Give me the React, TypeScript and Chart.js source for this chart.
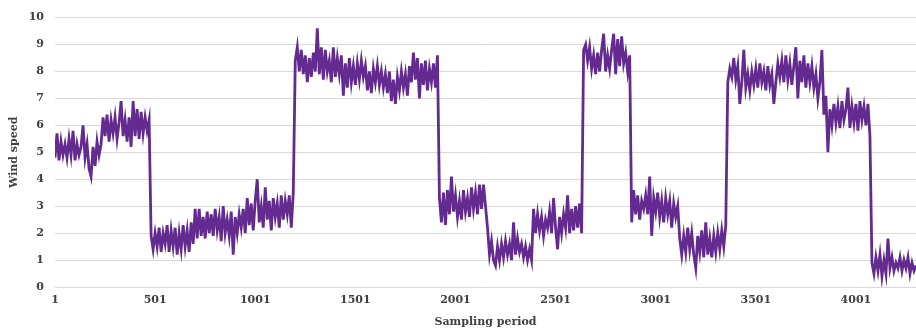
import React, { useEffect, useRef } from "react";
import { Chart, registerables } from "chart.js";

Chart.register(...registerables);

// Sampling periods shown as tick labels
const xTickLabels = [1, 501, 1001, 1501, 2001, 2501, 3001, 3501, 4001];
const yTickLabels = [0, 1, 2, 3, 4, 5, 6, 7, 8, 9, 10];
const samplingStep = 10; // one value read every 10 sampling periods
const firstPeriod = 1;
const lastPeriod = 4301;

// Wind speed, segment by segment
const segA = [4.8, 5.7, 4.7, 5.4, 4.9, 5.3, 4.8, 5.5, 4.9, 5.8, 4.7, 5.3, 4.9, 5.2, 6.0, 4.8, 5.3, 4.4, 4.1, 5.2, 4.5, 5.4, 4.9, 5.3];
const segB = [6.3, 5.6, 6.4, 5.4, 6.2, 5.7, 6.3, 5.5, 6.1, 6.9, 5.6, 6.2, 5.4, 6.3, 5.2, 6.9, 5.6, 6.6, 5.5, 6.5, 5.7, 6.3, 5.8, 6.2];
const segC = [1.9, 1.4, 2.0, 1.5, 2.2, 1.3, 2.0, 1.6, 2.3, 1.3, 2.1, 1.5, 2.2, 1.2, 2.0, 1.4, 2.3, 1.5, 2.1, 1.3, 2.4, 1.6, 2.9, 1.8];
const segD = [2.9, 1.9, 2.6, 1.8, 2.8, 2.0, 2.7, 1.9, 2.9, 2.1, 2.6, 1.7, 3.0, 2.0, 2.5, 1.9, 2.8, 1.2, 2.6, 2.0, 2.7, 2.2, 2.9, 2.0];
const segE = [3.3, 2.3, 3.1, 2.1, 3.2, 4.0, 2.4, 3.0, 2.2, 3.7, 2.5, 3.2, 2.1, 3.3, 2.6, 3.1, 2.2, 3.4, 2.5, 3.2, 2.7, 3.4, 2.2, 3.5];
const segF = [
  8.4, 8.9, 8.0, 8.8, 7.9, 8.6, 7.6, 8.5, 7.8, 8.7, 8.0, 9.6, 7.9, 8.9, 7.7, 8.8, 8.0, 8.4, 7.6, 8.9, 7.8, 8.5, 7.9, 8.6,
  7.1, 8.3, 7.4, 8.5, 7.6, 8.2, 7.5, 8.3, 7.7, 8.4, 7.8, 8.2, 7.3, 8.0, 7.2, 8.1, 7.6, 8.2, 7.5, 8.0, 7.4, 7.9, 7.2, 8.0,
  6.9, 7.7, 6.8, 7.8, 7.3, 8.0, 7.4, 7.9, 7.1, 8.2, 7.6, 8.7, 7.7, 8.5, 7.0, 8.3, 7.5, 8.4, 7.3, 8.1, 7.6, 8.3, 7.4, 8.6,
];
const segG = [3.3, 2.4, 3.5, 2.3, 3.6, 2.7, 4.1, 2.8, 3.4, 2.6, 3.2, 2.5, 3.6, 2.8, 3.3, 2.6, 3.7, 2.9, 3.5, 2.7, 3.8, 2.9, 3.8, 3.0];
const segH = [2.2, 1.2, 1.7, 1.0, 0.8, 1.5, 1.0, 1.6, 1.1, 1.7, 1.2, 1.6, 1.0, 2.4, 1.2, 1.8, 1.3, 1.6, 1.1, 1.5, 1.0, 1.4, 1.0];
const segI = [2.9, 2.0, 2.7, 2.1, 2.6, 1.9, 2.5, 2.2, 2.8, 2.0, 3.3, 2.2, 1.4, 2.6, 2.0, 2.7, 2.2, 3.4, 2.0, 2.9, 2.1, 3.0, 2.2, 3.1, 2.0];
const segJ = [8.8, 9.0, 8.4, 8.9, 8.1, 8.6, 7.9, 8.7, 8.0, 8.8, 9.4, 8.0, 8.6, 8.1, 8.8, 9.4, 7.9, 9.2, 8.2, 9.3, 8.3, 8.7, 8.0, 8.6];
const segK = [2.4, 3.6, 2.7, 3.4, 2.5, 3.2, 2.9, 3.4, 2.7, 4.1, 1.9, 3.3, 2.8, 3.5, 2.6, 3.2, 2.4, 3.3, 2.7, 3.2, 2.2, 3.1, 2.6, 3.0];
const segL = [1.8, 1.2, 1.9, 1.3, 2.2, 1.4, 2.0, 1.2, 0.7, 1.9, 1.3, 2.1, 1.1, 2.4, 1.2, 1.8, 1.1, 1.9, 1.3, 2.0, 1.4, 2.1, 1.5, 2.3];
const segM = [
  7.6, 8.1, 7.8, 8.5, 7.7, 8.2, 6.8, 7.6, 8.8, 7.4, 7.9, 7.3, 8.0, 7.5, 8.1, 7.4, 8.3, 7.6, 8.0, 7.3, 8.2, 7.5, 7.9, 6.8,
  7.6, 8.3, 7.8, 8.4, 7.6, 8.6, 7.7, 8.3, 7.5, 8.2, 8.9, 7.0, 8.4, 7.6, 8.6, 7.4, 8.3, 7.6, 8.2, 7.4, 7.9, 7.0, 7.6, 8.8,
];
const segN = [6.4, 7.1, 5.0, 6.6, 6.0, 6.8, 6.1, 6.7, 5.9, 6.9, 6.2, 6.6, 7.4, 5.9, 6.7, 6.1, 6.8, 5.8, 6.9, 6.2, 6.7, 6.0, 6.8, 5.6];
const segO = [0.9, 0.5, 1.1, 0.6, 1.2, 0.4, 1.0, 0.5, 1.8, 0.7, 1.1, 0.6, 0.9, 0.7, 1.1, 0.6, 1.0, 0.7, 1.1, 0.5, 0.9, 0.6, 0.8];

const windSpeed = [
  ...segA, ...segB, ...segC, ...segD, ...segE, ...segF, ...segG, ...segH,
  ...segI, ...segJ, ...segK, ...segL, ...segM, ...segN, ...segO,
];

const FONT = "'DejaVu Serif', 'Liberation Serif', serif";

export default function App() {
  const canvasRef = useRef<HTMLCanvasElement | null>(null);

  useEffect(() => {
    document.body.style.margin = "0";
    const canvas = canvasRef.current;
    if (!canvas) return;
    const points = windSpeed.map((v, i) => ({ x: firstPeriod + i * samplingStep, y: v }));
    const chart = new Chart(canvas, {
      type: "line",
      data: {
        datasets: [
          {
            label: "Wind speed",
            data: points,
            borderColor: "#632b8f",
            borderWidth: 2.8,
            pointRadius: 0,
            tension: 0,
            fill: false,
          },
        ],
      },
      options: {
        animation: false,
        responsive: false,
        maintainAspectRatio: false,
        layout: { padding: { top: 17, right: 0, left: 0, bottom: 0 } },
        plugins: { legend: { display: false }, tooltip: { enabled: false } },
        scales: {
          x: {
            type: "linear",
            min: firstPeriod,
            max: lastPeriod,
            afterBuildTicks: (scale: any) => {
              scale.ticks = xTickLabels.map((v) => ({ value: v }));
            },
            afterFit: (scale: any) => {
              scale.height = 42;
            },
            grid: { display: false, drawTicks: false },
            border: { display: false },
            ticks: {
              autoSkip: false,
              maxRotation: 0,
              padding: 7,
              color: "#404040",
              font: { family: FONT, size: 11, weight: "bold" },
              callback: (v: any) => String(v),
            },
            title: {
              display: true,
              text: "Sampling period",
              color: "#404040",
              padding: { top: 2, bottom: 0 },
              font: { family: FONT, size: 11, weight: "bold" },
            },
          },
          y: {
            min: 0,
            max: 10,
            afterBuildTicks: (scale: any) => {
              scale.ticks = yTickLabels.map((v) => ({ value: v }));
            },
            afterFit: (scale: any) => {
              scale.width = 55;
            },
            grid: { color: "#d9d9d9", lineWidth: 1, drawTicks: false },
            border: { display: false },
            ticks: {
              padding: 11,
              color: "#404040",
              font: { family: FONT, size: 11, weight: "bold" },
            },
            title: {
              display: true,
              text: "Wind speed",
              color: "#404040",
              padding: { top: 8, bottom: 0 },
              font: { family: FONT, size: 11, weight: "bold" },
            },
          },
        },
      },
    });
    return () => chart.destroy();
  }, []);

  return <canvas ref={canvasRef} width={916} height={329} style={{ display: "block" }} />;
}
